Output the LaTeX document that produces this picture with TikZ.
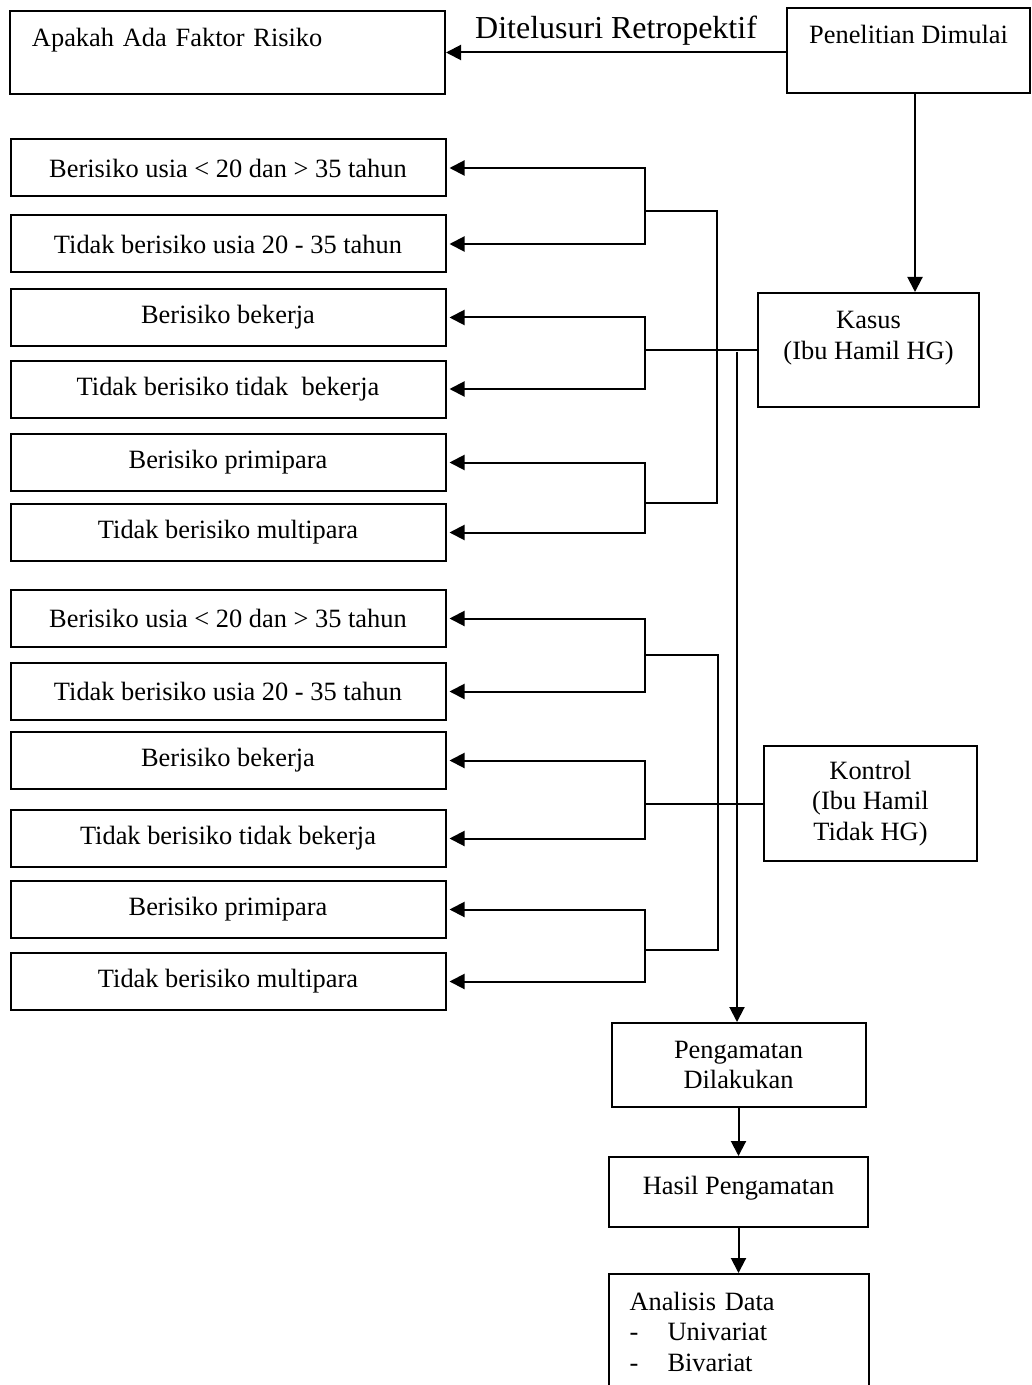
\documentclass[tikz,border=0pt]{standalone}
\usepackage{fontspec}
\setmainfont{Liberation Serif}
\usetikzlibrary{arrows.meta}
\tikzset{
  box/.style={draw, line width=1pt, inner sep=0pt, font=\fontsize{13.2}{15.3}\selectfont},
  cell/.style={box, minimum width=217.5pt, minimum height=28.5pt},
  tip/.style={line width=1pt, -{Triangle[length=7.5pt,width=7.5pt]}},
}
\begin{document}
\begin{tikzpicture}[x=0.5pt, y=-0.5pt, line width=1pt]
  \useasboundingbox (0,0) rectangle (1032,1385);
  \draw
    (227.5,52.5) node[box, text width=195.5pt, inner xsep=11pt, align=left, text height=18pt, text depth=23.5pt] (apakah){Apakah Ada Faktor Risiko}
    (908.5,50.5) node[box, minimum width=121.5pt, text height=18pt, text depth=24.5pt] (mulai){Penelitian Dimulai}
    (868.5,350) node[box, minimum width=110.5pt, align=center, text height=33pt, text depth=24pt] (kasus){Kasus\\(Ibu Hamil HG)}
    (870.5,803.5) node[box, minimum width=106.5pt, minimum height=57.5pt, align=center] (kontrol){Kontrol\\(Ibu Hamil\\Tidak HG)}
    (738.5,1065) node[box, minimum width=127pt, minimum height=42pt, align=center] (amat){Pengamatan\\Dilakukan}
    (738.5,1192) node[box, minimum width=129.5pt, text height=18.5pt, text depth=16.5pt] (hasil){Hasil Pengamatan}
    (738.5,1334) node[box, text width=109pt, inner xsep=10.5pt, align=left, text height=18pt, text depth=42pt] (analisis){Analisis Data\\\makebox[19pt][l]{-}Univariat\\\makebox[19pt][l]{-}Bivariat};
  % kelompok kasus
  \draw
    (228,168) node[cell] (b1){Berisiko usia < 20 dan > 35 tahun}
    (228,244) node[cell] (b2){Tidak berisiko usia 20 - 35 tahun}
    (228,317.5) node[cell] (b3){Berisiko bekerja}
    (228,389) node[cell] (b4){Tidak berisiko tidak\ \ bekerja}
    (228,462.5) node[cell] (b5){Berisiko primipara}
    (228,532.5) node[cell] (b6){Tidak berisiko multipara};
  % kelompok kontrol
  \draw
    (228,618.5) node[cell] (b7){Berisiko usia < 20 dan > 35 tahun}
    (228,691.5) node[cell] (b8){Tidak berisiko usia 20 - 35 tahun}
    (228,760.5) node[cell] (b9){Berisiko bekerja}
    (228,838.5) node[cell] (b10){Tidak berisiko tidak bekerja}
    (228,909.5) node[cell] (b11){Berisiko primipara}
    (228,981.5) node[cell] (b12){Tidak berisiko multipara};
  \coordinate (j1) at (645,211);
  \coordinate (j2) at (645,350);
  \coordinate (j3) at (645,503);
  \coordinate (j4) at (645,655);
  \coordinate (j5) at (645,803.5);
  \coordinate (j6) at (645,950);
  \coordinate (t) at (737,352);
  \begin{scope}[tip]
    \draw (apakah.east -| mulai.west) -- node[above, font=\fontsize{16}{18}\selectfont]{Ditelusuri Retropektif} (apakah.east);
    \draw ([xshift=3.25pt]mulai.south) -- ([xshift=3.25pt]mulai.south |- kasus.north);
    \draw (t) -- (t |- amat.north);
    \draw (amat) -- (hasil);
    \draw (hasil) -- (analisis);
  \end{scope}
  \begin{scope}[tip, shorten >=1.5pt]
    \draw (j1) |- (b1);
    \draw (j1) |- (b2);
    \draw (j2) |- (b3);
    \draw (j2) |- (b4);
    \draw (j3) |- (b5);
    \draw (j3) |- (b6);
    \draw (j4) |- (b7);
    \draw (j4) |- (b8);
    \draw (j5) |- (b9);
    \draw (j5) |- (b10);
    \draw (j6) |- (b11);
    \draw (j6) |- (b12);
  \end{scope}
  \draw (j1) -- ++(72,0) |- (j3);
  \draw (j2) -- (kasus.west);
  \draw (j4) -- ++(73,0) |- (j6);
  \draw (j5) -- (kontrol.west);
\end{tikzpicture}
\end{document}
